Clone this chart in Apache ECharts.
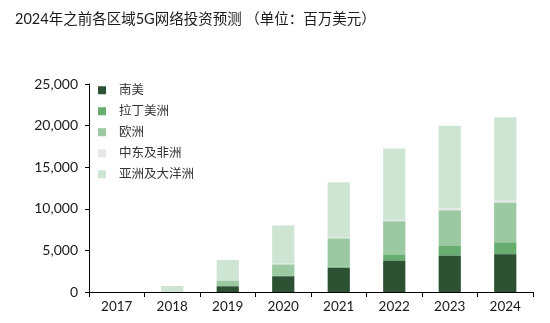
<!DOCTYPE html>
<html>
<head>
<meta charset="utf-8">
<script src="https://cdn.jsdelivr.net/npm/echarts@6/dist/echarts.min.js"></script>
<style>
  html, body { margin: 0; padding: 0; background: #fff; }
  #chart { width: 550px; height: 323px; }
</style>
</head>
<body>
<div id="chart"></div>
<script>
// 2024年之前各区域5G网络投资预测（单位：百万美元）
const years = ['2017', '2018', '2019', '2020', '2021', '2022', '2023', '2024'];
const southAmerica = [0, 0, 700, 1900, 2930, 3800, 4400, 4550];
const latinAmerica = [0, 0, 0, 80, 100, 730, 1130, 1430];
const europe = [0, 0, 700, 1350, 3430, 3980, 4300, 4780];
const meAfrica = [0, 0, 50, 80, 100, 150, 200, 200];
const asiaPacific = [0, 720, 2400, 4590, 6640, 8600, 9950, 10030];
const yTicks = [0, 5000, 10000, 15000, 20000, 25000];

const names = ['南美', '拉丁美洲', '欧洲', '中东及非洲', '亚洲及大洋洲'];
const colors = ['#2c5233', '#67ae70', '#9bc9a1', '#e6e6e6', '#cfe5d4'];
const values = [southAmerica, latinAmerica, europe, meAfrica, asiaPacific];

const font = 'Lato, "Noto Sans CJK SC", sans-serif';

const chart = echarts.init(document.getElementById('chart'), null, { renderer: 'canvas' });
chart.setOption({
  animation: false,
  color: colors,
  title: {
    text: '2024年之前各区域5G网络投资预测 （单位：百万美元）',
    left: 10,
    top: 7,
    textStyle: { fontSize: 14.5, fontWeight: 'normal', color: '#1a1a1a', fontFamily: font }
  },
  legend: {
    orient: 'vertical',
    left: 93,
    top: 79,
    itemWidth: 8,
    itemHeight: 8,
    itemGap: 8.5,
    icon: 'rect',
    textStyle: { fontSize: 12.5, color: '#333', fontFamily: font, padding: [0, 0, 0, 8] },
    data: names
  },
  grid: { left: 89, right: 17, top: 84, bottom: 31, containLabel: false },
  xAxis: {
    type: 'category',
    data: years,
    axisLine: { lineStyle: { color: '#000', width: 1 } },
    axisTick: { show: true, length: 5, lineStyle: { color: '#000' } },
    axisLabel: { fontSize: 13.5, color: '#1a1a1a', fontFamily: font, margin: 8 }
  },
  yAxis: {
    type: 'value',
    min: yTicks[0],
    max: yTicks[yTicks.length - 1],
    interval: 5000,
    axisLine: { show: true, lineStyle: { color: '#000', width: 1 } },
    axisTick: { show: true, length: 4, lineStyle: { color: '#000' } },
    splitLine: { show: false },
    axisLabel: {
      fontSize: 14,
      color: '#1a1a1a',
      fontFamily: font,
      margin: 11,
      formatter: v => v.toLocaleString('en-US')
    }
  },
  series: names.map((n, i) => ({
    name: n,
    type: 'bar',
    stack: 'total',
    barWidth: '40%',
    data: values[i],
    itemStyle: { color: colors[i] }
  }))
});
</script>
</body>
</html>
